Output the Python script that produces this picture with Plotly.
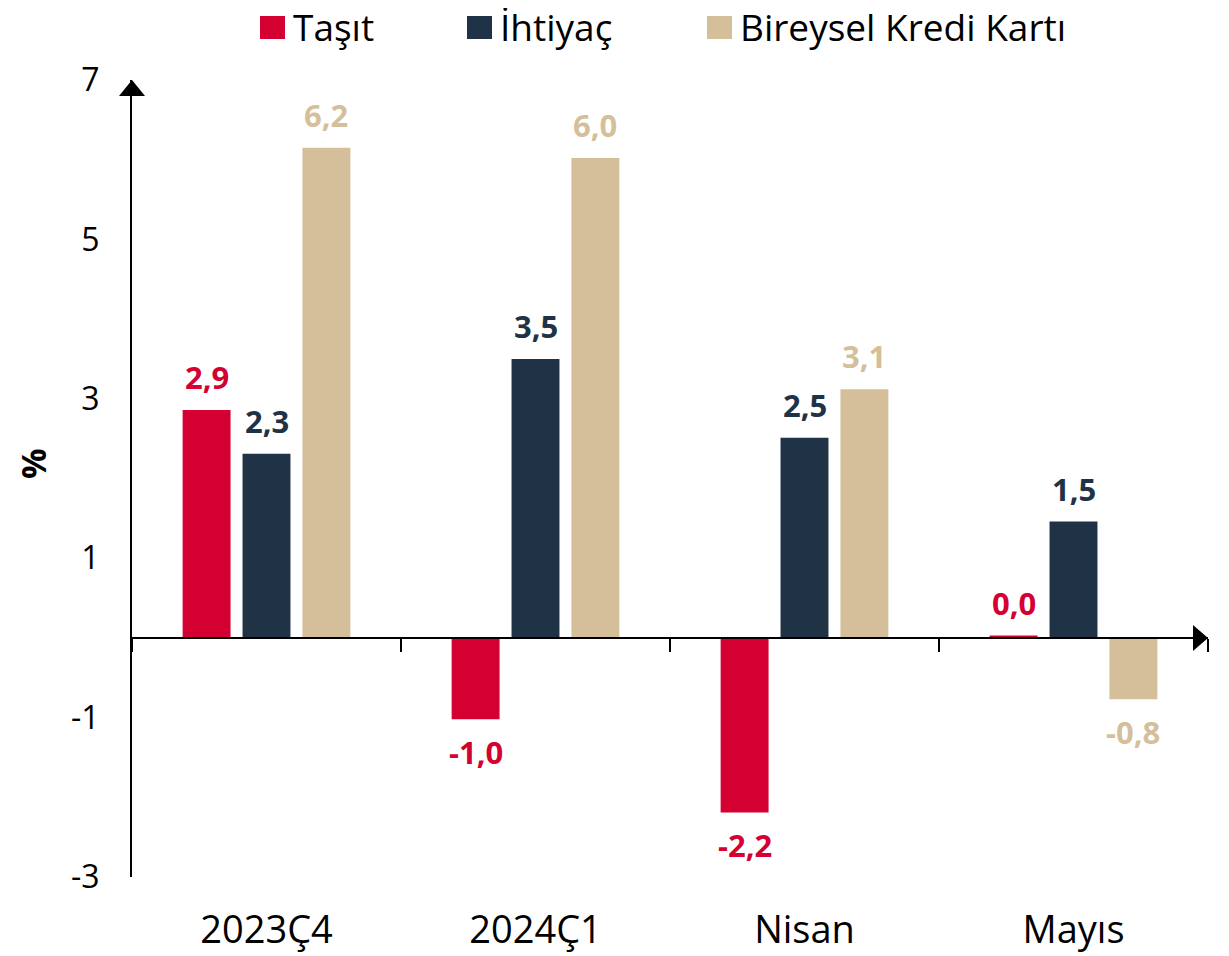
import plotly.graph_objects as go

categories = ["2023Ç4", "2024Ç1", "Nisan", "Mayıs"]
series_names = ["Taşıt", "İhtiyaç", "Bireysel Kredi Kartı"]
tasit = [2.86, -1.02, -2.19, 0.03]
ihtiyac = [2.31, 3.50, 2.51, 1.46]
kredi_karti = [6.15, 6.02, 3.12, -0.77]
label_tasit = ["2,9", "-1,0", "-2,2", "0,0"]
label_ihtiyac = ["2,3", "3,5", "2,5", "1,5"]
label_kredi = ["6,2", "6,0", "3,1", "-0,8"]
y_ticks = [-3, -1, 1, 3, 5, 7]

colors = ["#D50032", "#1F3246", "#D5BF9B"]
values = [tasit, ihtiyac, kredi_karti]
labels = [label_tasit, label_ihtiyac, label_kredi]

# page has an 8px body margin; build the figure in page coordinates
OFF = 8
W, H = 1229 - OFF, 956 - OFF
ML, MR, MT, MB = 132 - OFF, 21, 80 - OFF, 79
PW, PH = W - ML - MR, H - MT - MB
YMIN, YMAX = -3, 7
BARGAP = 0.332
FONT = "Open Sans"


def px_x(px):
    return (px - OFF - ML) / PW


def px_y(py):
    return (H - MB - (py - OFF)) / PH


fig = go.Figure()
for name, vals, col in zip(series_names, values, colors):
    fig.add_trace(go.Bar(x=categories, y=vals, name=name, marker_color=col,
                         marker_line_width=0, showlegend=False))

# data labels
slot = PW / len(categories) * (1 - BARGAP) / len(series_names)
annotations = []
for i, (vals, labs, col) in enumerate(zip(values, labels, colors)):
    for cat, v, lab in zip(categories, vals, labs):
        pos = v >= 0
        annotations.append(dict(
            x=cat, y=v, xref="x", yref="y", text="<b>%s</b>" % lab,
            showarrow=False, xshift=(i - 1) * slot,
            yanchor="bottom" if pos else "top", yshift=10 if pos else -10,
            font=dict(family=FONT, size=31, color=col)))

# legend (manual, large swatches)
legend_px = [260, 467, 707]
LEG_Y = 27
shapes = []
for name, col, lx in zip(series_names, colors, legend_px):
    shapes.append(dict(type="rect", xref="paper", yref="paper",
                       x0=px_x(lx), x1=px_x(lx + 25),
                       y0=px_y(LEG_Y + 12), y1=px_y(LEG_Y - 11),
                       fillcolor=col, line_width=0))
    annotations.append(dict(x=px_x(lx + 31), y=px_y(LEG_Y), xref="paper", yref="paper",
                            text=name, showarrow=False, xanchor="left", yanchor="middle",
                            font=dict(family=FONT, size=37, color="black")))

# y-axis title
annotations.append(dict(x=px_x(33), y=px_y(464), xref="paper", yref="paper",
                        text="<b>%</b>", textangle=-90, showarrow=False,
                        xanchor="center", yanchor="middle",
                        font=dict(family=FONT, size=34, color="black")))

# arrows
ah = 13
shapes.append(dict(type="path", xref="paper", yref="paper",
                   path="M %f %f L %f %f L %f %f Z" % (
                       px_x(132 - ah), px_y(96), px_x(132 + ah), px_y(96),
                       px_x(132), 1.0),
                   fillcolor="black", line_width=0))
dy = ah / PH * (YMAX - YMIN)
shapes.append(dict(type="path", xref="paper", yref="y",
                   path="M %f %f L %f %f L %f %f Z" % (
                       px_x(1193), dy, px_x(1193), -dy, 1.0, 0),
                   fillcolor="black", line_width=0))

fig.update_layout(
    width=W, height=H,
    margin=dict(l=ML, r=MR, t=MT, b=MB, pad=0),
    paper_bgcolor="white", plot_bgcolor="white",
    barmode="group", bargap=BARGAP, bargroupgap=0.2,
    showlegend=False,
    font=dict(family=FONT, color="black"),
    annotations=annotations, shapes=shapes,
    xaxis=dict(type="category", categoryarray=categories, range=[-0.5, 3.5],
               anchor="free", position=(0 - YMIN) / (YMAX - YMIN),
               showline=True, linecolor="black", linewidth=2,
               ticks="outside", tickson="boundaries", ticklen=13, tickwidth=2,
               tickcolor="black", ticklabelstandoff=258, automargin=False,
               showgrid=False, tickfont=dict(family=FONT, size=38, color="black")),
    yaxis=dict(range=[YMIN, YMAX], tickvals=y_ticks, ticktext=[str(t) for t in y_ticks],
               showline=True, linecolor="black", linewidth=2, ticks="",
               showgrid=False, zeroline=False, ticklabelstandoff=24, automargin=False,
               tickfont=dict(family=FONT, size=32, color="black")),
)

fig.write_html("out.html")
